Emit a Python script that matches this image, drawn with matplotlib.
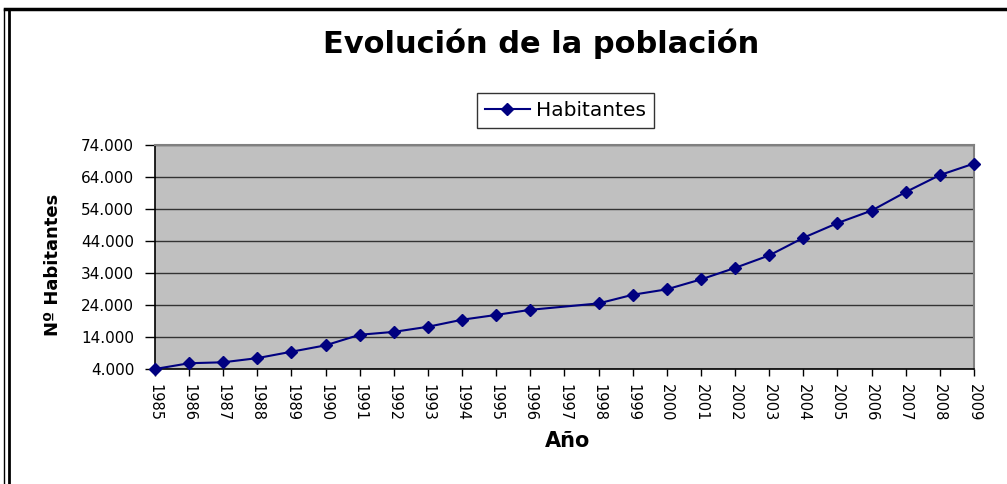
import numpy as np
import matplotlib
matplotlib.use("Agg")
from matplotlib import pyplot as plt
from matplotlib.lines import Line2D
from matplotlib.ticker import FuncFormatter

plt.rcParams['font.family'] = ['DejaVu Sans']

# population per year (1997 has no value, line connects 1996 -> 1998)
years = [1985, 1986, 1987, 1988, 1989, 1990, 1991, 1992, 1993, 1994, 1995, 1996, 1997,
         1998, 1999, 2000, 2001, 2002, 2003, 2004, 2005, 2006, 2007, 2008, 2009]
habitantes = [4000, 5800, 6100, 7400, 9400, 11400, 14700, 15600, 17200, 19400, 20900, 22500, np.nan,
              24500, 27200, 28900, 32000, 35600, 39500, 45000, 49600, 53500, 59300, 64600, 68200]
y_ticks = [4000, 14000, 24000, 34000, 44000, 54000, 64000, 74000]

navy = "#000080"

fig = plt.figure(figsize=(10.07, 4.84), dpi=100)
ax = fig.add_axes([0.1539, 0.2376, 0.8133, 0.4628])
ax.set_facecolor("#C0C0C0")

x = np.arange(len(years))
vals = np.array(habitantes, dtype=float)
ok = ~np.isnan(vals)
ax.plot(x[ok], vals[ok], color=navy, lw=1.5, marker="D", ms=6.5,
        markerfacecolor=navy, markeredgecolor=navy, zorder=3, clip_on=False)

ax.set_xlim(0, len(years) - 1)
ax.set_ylim(4000, 74000)
ax.set_yticks(y_ticks)
ax.yaxis.set_major_formatter(FuncFormatter(lambda v, p: f"{int(v):,}".replace(",", ".")))
ax.set_xticks(x)
ax.set_xticklabels([str(y) for y in years], rotation=270, fontsize=10.5)
ax.tick_params(axis="y", labelsize=11, length=7, width=1, direction="out", pad=8)
ax.tick_params(axis="x", length=5, width=1, direction="out", pad=6)

ax.grid(axis="y", color="#333333", lw=1)
ax.set_axisbelow(True)
for s in ["left", "bottom"]:
    ax.spines[s].set_color("black")
    ax.spines[s].set_linewidth(1.2)
for s in ["top", "right"]:
    ax.spines[s].set_color("#808080")
    ax.spines[s].set_linewidth(1.5)

fig.text(0.537, 0.91, "Evolución de la población", ha="center", va="center",
         fontsize=22, fontweight="bold")
fig.text(0.053, 0.452, "Nº Habitantes", rotation=90, ha="center", va="center",
         fontsize=13, fontweight="bold")
fig.text(0.564, 0.089, "Año", ha="center", va="center", fontsize=15, fontweight="bold")

handle = Line2D([], [], color=navy, lw=1.5, marker="D", ms=6, markerfacecolor=navy)
leg = fig.legend([handle], ["Habitantes"], loc="center", bbox_to_anchor=(0.5615, 0.772),
                 fontsize=14.5, frameon=True, fancybox=False, edgecolor="black",
                 handlelength=2.2, handletextpad=0.3, borderpad=0.4)
leg.get_frame().set_linewidth(1)

# outer frame of the original chart
fig.add_artist(Line2D([0.005, 1.0], [0.982, 0.982], color="black", lw=2.5, transform=fig.transFigure))
fig.add_artist(Line2D([0.004, 0.004], [0.0, 0.982], color="black", lw=1, transform=fig.transFigure))
fig.add_artist(Line2D([0.009, 0.009], [0.0, 0.982], color="black", lw=2, transform=fig.transFigure))

plt.savefig("out.png", dpi=100)
